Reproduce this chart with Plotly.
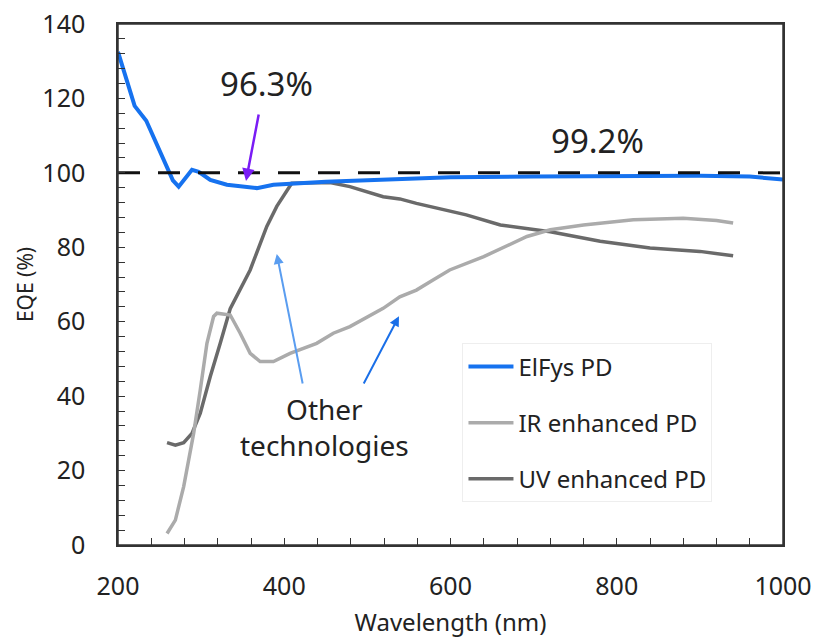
import plotly.graph_objects as go

# ---- data ----
elfys_x = [200, 210, 220, 234, 244, 258, 266, 273, 281, 289, 297, 311, 331, 355, 367, 387, 411, 450, 500, 540, 600, 700, 800, 900, 960, 980, 1000]
elfys_y = [132.5, 125, 118, 114, 109, 101.7, 98, 96.3, 98.6, 100.8, 100.3, 98.1, 96.8, 96.3, 95.9, 96.8, 97.2, 97.6, 98.0, 98.3, 98.8, 99.0, 99.2, 99.2, 99.0, 98.7, 98.2]

ir_x = [259, 269, 279, 291, 299, 307, 315, 319, 335, 347, 359, 371, 387, 407, 439, 459, 479, 519, 539, 559, 579, 599, 640, 692, 720, 760, 820, 880, 920, 940]
ir_y = [3.1, 6.7, 15.7, 30, 41.7, 54.2, 61.4, 62.3, 61.8, 56.9, 51.5, 49.3, 49.3, 51.5, 54.2, 56.9, 58.7, 63.6, 66.7, 68.5, 71.2, 73.9, 77.5, 82.9, 84.7, 86, 87.4, 87.8, 87.2, 86.5]

uv_x = [259, 269, 279, 289, 299, 311, 323, 335, 359, 371, 379, 391, 409, 455, 479, 519, 539, 559, 599, 619, 660, 720, 780, 840, 900, 940]
uv_y = [27.5, 26.8, 27.5, 30, 35.4, 45.3, 54.2, 63.5, 73.9, 81.1, 85.6, 91, 97.2, 97.4, 96.3, 93.6, 93.0, 91.8, 89.6, 88.7, 86, 84.2, 81.6, 79.8, 78.9, 77.7]

ref_y = 100
ref_x = [200, 1000]

FONT = "Noto Sans"
TXT = "#222222"

fig = go.Figure()
fig.add_trace(go.Scatter(x=uv_x, y=uv_y, mode="lines", name="UV enhanced PD",
                         line=dict(color="#6a6a6a", width=3.5), legendrank=3, legendgroup="c"))
fig.add_trace(go.Scatter(x=ir_x, y=ir_y, mode="lines", name="IR enhanced PD",
                         line=dict(color="#ababab", width=3.5), legendrank=2, legendgroup="b"))
fig.add_trace(go.Scatter(x=elfys_x, y=elfys_y, mode="lines", name="ElFys PD",
                         line=dict(color="#1672ef", width=4), legendrank=1, legendgroup="a"))
fig.add_trace(go.Scatter(x=ref_x, y=[ref_y, ref_y], mode="lines", showlegend=False,
                         line=dict(color="#111111", width=3, dash="22px,18px"), hoverinfo="skip"))

axis_common = dict(showline=True, linecolor="#333333", linewidth=1.5, mirror=True,
                   ticks="inside", ticklen=7, tickcolor="#333333", tickwidth=1.2,
                   showgrid=False, zeroline=False, automargin=False,
                   tickfont=dict(family=FONT, size=25, color=TXT))

fig.update_xaxes(range=[200, 1000], dtick=200, tick0=200, ticklabelstandoff=18,
                 minor=dict(dtick=40, ticks="inside", ticklen=7, tickcolor="#333333", tickwidth=1.2, showgrid=False),
                 title=dict(text="Wavelength (nm)", font=dict(family=FONT, size=24, color=TXT), standoff=23),
                 **axis_common)
fig.update_yaxes(range=[0, 140], dtick=20, ticklabelstandoff=26,
                 minor=dict(dtick=4, ticks="inside", ticklen=7, tickcolor="#333333", tickwidth=1.2, showgrid=False),
                 title=dict(text="EQE (%)", font=dict(family=FONT, size=21, color=TXT), standoff=3),
                 **axis_common)

# plot frame
fig.add_shape(type="rect", xref="paper", yref="paper", x0=0, x1=1, y0=0, y1=1,
              line=dict(color="#333333", width=1.5), fillcolor="rgba(0,0,0,0)", layer="above")

fig.add_annotation(x=354, y=97.8, ax=369.6, ay=116.1, axref="x", ayref="y",
                   xref="x", yref="y", showarrow=True, arrowhead=2, arrowsize=1, arrowwidth=2.5,
                   arrowcolor="#7a1cf5", text="")
fig.add_annotation(x=379, y=123.9, xref="x", yref="y", text="96.3%", showarrow=False,
                   font=dict(family=FONT, size=33, color=TXT))
fig.add_annotation(x=777, y=108.8, xref="x", yref="y", text="99.2%", showarrow=False,
                   font=dict(family=FONT, size=33, color=TXT))
fig.add_annotation(x=449, y=31.7, xref="x", yref="y", text="Other<br>technologies", showarrow=False,
                   font=dict(family=FONT, size=28, color=TXT), align="center")
fig.add_annotation(x=391, y=78.2, ax=422.5, ay=43, xref="x", yref="y", axref="x", ayref="y",
                   showarrow=True, arrowhead=2, arrowwidth=2, arrowcolor="#5a9df0", text="")
fig.add_annotation(x=538, y=61.5, ax=494.7, ay=43, xref="x", yref="y", axref="x", ayref="y",
                   showarrow=True, arrowhead=2, arrowwidth=2, arrowcolor="#1a6fe8", text="")

fig.update_layout(
    width=813, height=638,
    margin=dict(l=118, r=30, t=24, b=93),
    paper_bgcolor="white", plot_bgcolor="white",
    legend=dict(x=0.518, y=0.387, xanchor="left", yanchor="top",
                bgcolor="white", bordercolor="#eeeeee", borderwidth=1,
                font=dict(family=FONT, size=24, color=TXT), tracegroupgap=22,
                itemwidth=45),
    showlegend=True,
)
# remove the default 8px page margin so the figure sits at the window's top-left corner
fig.write_html("out.html", config={"displayModeBar": False},
               post_script="document.body.style.margin='0';document.body.style.overflow='hidden';")
